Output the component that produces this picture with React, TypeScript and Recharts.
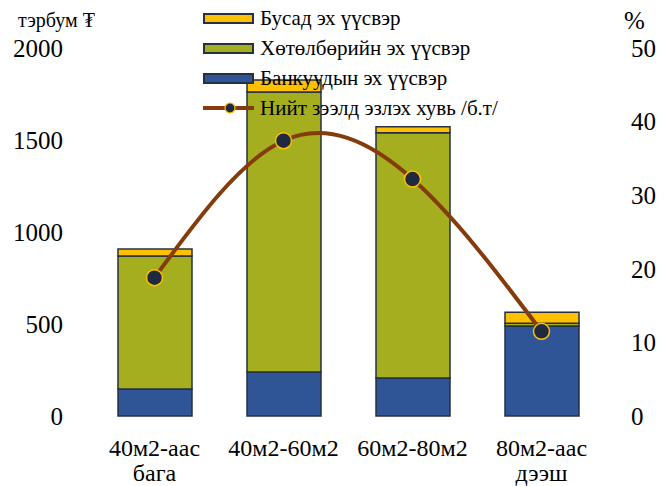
import { Bar, ComposedChart, Line, XAxis, YAxis } from "recharts";

const categories = ["40м2-аас бага", "40м2-60м2", "60м2-80м2", "80м2-аас дээш"];
const bankSource = [147, 239, 207, 489];
const programSource = [723, 1522, 1332, 15];
const otherSource = [38, 65, 33, 60];
const loanShare = [18.8, 37.4, 32.2, 11.5];
const leftTicks = [0, 500, 1000, 1500, 2000];
const rightTicks = [0, 10, 20, 30, 40, 50];

const data = categories.map((name, i) => ({
  name,
  bank: bankSource[i],
  program: programSource[i],
  other: otherSource[i],
  share: loanShare[i],
}));

const FONT = "Liberation Serif";
const BLUE = "#2F5597";
const GREEN = "#A5AE1E";
const YELLOW = "#FFC000";
const BROWN = "#843C0C";
const EDGE = "#253042";

const legendItems = [
  { label: "Бусад эх үүсвэр", color: YELLOW, kind: "bar" },
  { label: "Хөтөлбөрийн эх үүсвэр", color: GREEN, kind: "bar" },
  { label: "Банкуудын эх үүсвэр", color: BLUE, kind: "bar" },
  { label: "Нийт зээлд эзлэх хувь /б.т/", color: BROWN, kind: "line" },
];

function CategoryTick(props: any) {
  const { x, y, payload } = props;
  const parts = String(payload.value).split(" ");
  return (
    <text x={x} y={y} textAnchor="middle" fontFamily={FONT} fontSize={24} fill="#000">
      {parts.map((p, i) => (
        <tspan key={i} x={x} dy={i === 0 ? 32 : 25}>
          {p}
        </tspan>
      ))}
    </text>
  );
}

function ChartLegend() {
  return (
    <div
      style={{
        position: "absolute",
        left: 203,
        top: 3,
        fontFamily: FONT,
        fontSize: 21,
        color: "#000",
        pointerEvents: "none",
      }}
    >
      {legendItems.map((item) => (
        <div key={item.label} style={{ display: "flex", alignItems: "center", height: 30 }}>
          {item.kind === "bar" ? (
            <div
              style={{
                width: 51,
                height: 11,
                background: item.color,
                border: `2px solid ${EDGE}`,
                boxSizing: "border-box",
                marginRight: 6,
              }}
            />
          ) : (
            <svg width={51} height={16} style={{ marginRight: 6 }}>
              <line x1={0} y1={8} x2={51} y2={8} stroke={item.color} strokeWidth={4} />
              <circle cx={27} cy={8} r={5} fill="#1F2A40" stroke={YELLOW} strokeWidth={1.2} />
            </svg>
          )}
          <span>{item.label}</span>
        </div>
      ))}
    </div>
  );
}

export default function App() {
  return (
    <div style={{ position: "absolute", left: 0, top: 0, width: 672, height: 486, background: "#fff" }}>
      <ComposedChart
        width={672}
        height={486}
        data={data}
        margin={{ top: 48, right: 0, bottom: 0, left: 0 }}
      >
        <XAxis
          dataKey="name"
          axisLine={false}
          tickLine={false}
          height={70}
          interval={0}
          tick={<CategoryTick />}
        />
        <YAxis
          yAxisId="left"
          domain={[0, 2000]}
          ticks={leftTicks}
          width={90}
          axisLine={false}
          tickLine={false}
          tickSize={0}
          tickMargin={27}
          tick={{ fontFamily: FONT, fontSize: 25, fill: "#000" }}
        />
        <YAxis
          yAxisId="right"
          orientation="right"
          domain={[0, 50]}
          ticks={rightTicks}
          width={66}
          axisLine={false}
          tickLine={false}
          tickSize={0}
          tickMargin={25}
          tick={{ fontFamily: FONT, fontSize: 25, fill: "#000", textAnchor: "start" }}
        />
        <Bar yAxisId="left" dataKey="bank" stackId="s" fill={BLUE} stroke={EDGE} strokeWidth={1.5} barSize={74} isAnimationActive={false} />
        <Bar yAxisId="left" dataKey="program" stackId="s" fill={GREEN} stroke={EDGE} strokeWidth={1.5} barSize={74} isAnimationActive={false} />
        <Bar yAxisId="left" dataKey="other" stackId="s" fill={YELLOW} stroke={EDGE} strokeWidth={1.5} barSize={74} isAnimationActive={false} />
        <Line
          yAxisId="right"
          dataKey="share"
          type="natural"
          stroke={BROWN}
          strokeWidth={4}
          dot={{ r: 8, fill: "#1F2A40", stroke: YELLOW, strokeWidth: 1.5 }}
          isAnimationActive={false}
        />
        <text x={18} y={27} fontFamily={FONT} fontSize={20} fill="#000">
          тэрбум ₮
        </text>
        <text x={624} y={29} fontFamily={FONT} fontSize={25} fill="#000">
          %
        </text>
      </ComposedChart>
      <ChartLegend />
    </div>
  );
}
